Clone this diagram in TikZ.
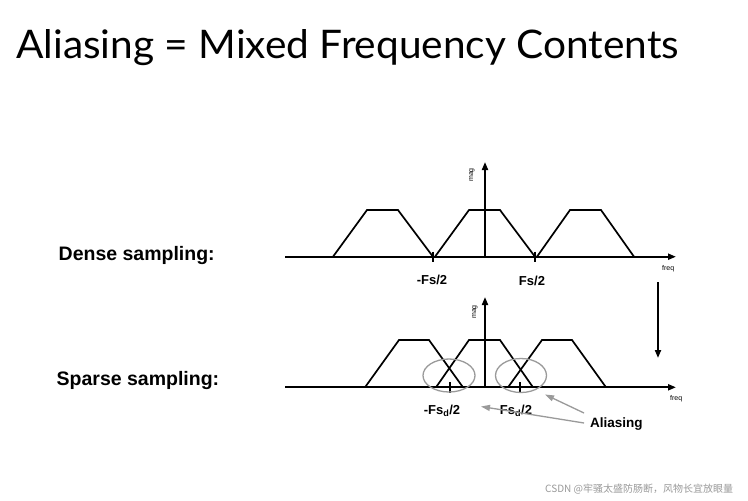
\documentclass[tikz,border=0pt]{standalone}
\usepackage{fontspec}
\setmainfont{Liberation Sans}
\newfontfamily\titlefont{Lato}
\newfontfamily\cjkfont{Noto Sans CJK SC}
\usetikzlibrary{arrows.meta,shapes.geometric}
\definecolor{ringgray}{HTML}{9A9A9A}
\definecolor{markgray}{HTML}{999999}
\tikzset{
  axis/.style={line width=1.9pt,-{Triangle[length=8pt,width=6pt]}},
  spectrum/.style={line width=1.7pt,line join=miter},
  tickmark/.style={line width=1.9pt},
  ring/.style={ellipse,draw=ringgray,line width=1.3pt,inner sep=0pt},
  pointer/.style={draw=ringgray,line width=1.3pt,-{Triangle[length=9pt,width=6pt]},fill=ringgray},
  lbl/.style={font=\bfseries\fontsize{13}{15}\selectfont,inner sep=0pt},
  sidelbl/.style={font=\bfseries\fontsize{19.5}{22}\selectfont,inner sep=0pt,anchor=base west},
  tiny/.style={font=\fontsize{7}{8}\selectfont,inner sep=0pt}
}
\begin{document}
\begin{tikzpicture}[x=1pt,y=-1pt]
\useasboundingbox[fill=white] (0,0) rectangle (748,501);

% title
\node[anchor=base west,inner sep=0pt] (title) at (16,58.5)
  {\resizebox{663pt}{29pt}{\titlefont Aliasing = Mixed Frequency Contents}};

% side labels
\node[sidelbl] (dense) at (58.5,260.5) {Dense sampling:};
\node[sidelbl] (sparse) at (56.5,385) {Sparse sampling:};

% ---------- dense spectrum ----------
\coordinate (dx0) at (285,256.7);
\coordinate (dx1) at (676,256.7);
\coordinate (dy0) at (485,256.7);
\coordinate (dy1) at (485,162);
\draw[axis] (dx0) -- (dx1);
\draw[axis] (dy0) -- (dy1);
\draw[spectrum] (333,256.7) -- (367,210) -- (398,210) -- (433,256.7);
\draw[spectrum] (435,256.7) -- (469,210) -- (500,210) -- (535,256.7);
\draw[spectrum] (537,256.7) -- (570,210) -- (601,210) -- (634,256.7);
\draw[tickmark] (433,251.5) -- (433,262);
\draw[tickmark] (535,251.5) -- (535,262);
\node[lbl,anchor=base] (mfs) at (432,284.5) {-Fs/2};
\node[lbl,anchor=base] (pfs) at (532,285) {Fs/2};
\node[tiny,anchor=west] (dfreq) at (662,268.5) {freq};
\node[tiny,rotate=90] (dmag) at (472,175) {mag};

% arrow between plots
\coordinate (va0) at (658,282);
\coordinate (va1) at (658,358);
\draw[axis] (va0) -- (va1);

% ---------- sparse spectrum ----------
\coordinate (sx0) at (285,387.3);
\coordinate (sx1) at (676,387.3);
\coordinate (sy0) at (485,387.3);
\coordinate (sy1) at (485,297);
\draw[axis] (sx0) -- (sx1);
\draw[axis] (sy0) -- (sy1);
\draw[spectrum] (365,387.3) -- (399,340) -- (429,340) -- (463,387.3);
\draw[spectrum] (436,387.3) -- (469,340) -- (500,340) -- (533,387.3);
\draw[spectrum] (508,387.3) -- (542,340) -- (572,340) -- (606,387.3);
\draw[tickmark] (450,382) -- (450,393);
\draw[tickmark] (520,382) -- (520,393);
\node[tiny,anchor=west] (sfreq) at (670,398.5) {freq};
\node[tiny,rotate=90] (smag) at (475,312) {mag};

\node[ring,minimum width=52pt,minimum height=33pt] (ringL) at (449,375.5) {};
\node[ring,minimum width=51pt,minimum height=34pt] (ringR) at (521,375.5) {};

\node[lbl,anchor=base] (mfsd) at (442,414) {-Fs\textsubscript{d}/2};
\node[lbl,anchor=base] (pfsd) at (516,414) {Fs\textsubscript{d}/2};
\node[font=\bfseries\fontsize{13.5}{15}\selectfont,inner sep=0pt,anchor=base west] (alias) at (590,427) {Aliasing};

\coordinate (pA) at (584,423);
\coordinate (pB) at (584,413);
\draw[pointer] (pA) -- (481,406.5);
\draw[pointer] (pB) -- (545,394.5);

% watermark
\node[anchor=base west,inner sep=0pt,text=markgray] (wm) at (545,492)
  {\resizebox{188pt}{!}{\cjkfont CSDN @牢骚太盛防肠断，风物长宜放眼量}};
\end{tikzpicture}
\end{document}
